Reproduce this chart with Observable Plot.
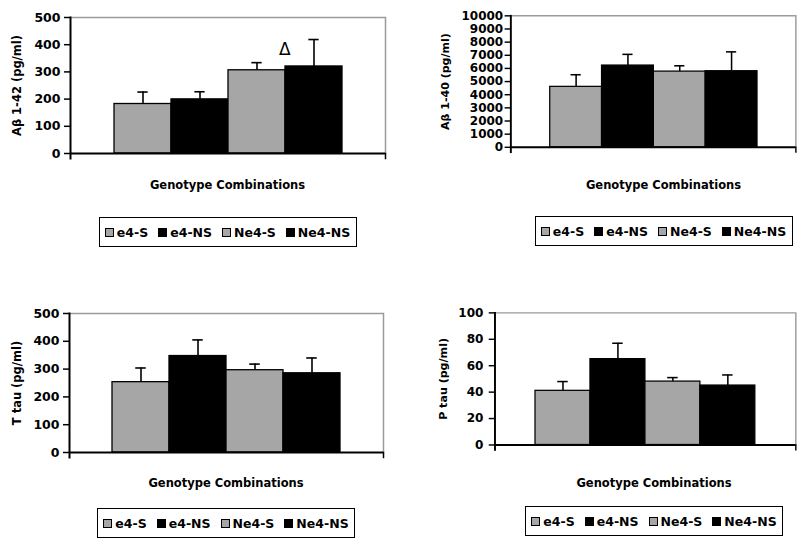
<!DOCTYPE html>
<html>
<head>
<meta charset="utf-8">
<script src="https://cdn.jsdelivr.net/npm/d3@7"></script>
<script src="https://cdn.jsdelivr.net/npm/@observablehq/plot@0.6"></script>
<style>
  html, body { margin: 0; padding: 0; background: #fff; }
  body { width: 805px; height: 540px; overflow: hidden; position: relative; font-family: "DejaVu Sans", sans-serif; }
  .panel { position: absolute; }
  .title { position: absolute; width: 300px; text-align: center; font-weight: bold; font-size: 11.5px; line-height: 14px; color: #000; }
  .legend { position: absolute; box-sizing: border-box; width: 258px; height: 30px; border: 1.5px solid #000;
            display: flex; align-items: center; justify-content: center; gap: 10px; font-weight: bold; font-size: 12.5px; color: #000; }
  .item { display: flex; align-items: center; }
  .sw { width: 7px; height: 7px; border: 1px solid #000; margin-right: 3px; }
</style>
</head>
<body>
<script>
// ---- data ----
const series = ["e4-S", "e4-NS", "Ne4-S", "Ne4-NS"];
const seriesColors = ["#a6a6a6", "#000000", "#a6a6a6", "#000000"];
const xTitle = "Genotype Combinations";

const ab42Mean = [182, 199, 306, 320];
const ab42Err  = [44, 28, 28, 99];
const ab42Ticks = [0, 100, 200, 300, 400, 500];

const ab40Mean = [4600, 6220, 5760, 5790];
const ab40Err  = [920, 850, 440, 1470];
const ab40Ticks = [0, 1000, 2000, 3000, 4000, 5000, 6000, 7000, 8000, 9000, 10000];

const ttauMean = [253, 347, 296, 285];
const ttauErr  = [51, 58, 22, 55];
const ttauTicks = [0, 100, 200, 300, 400, 500];

const ptauMean = [41, 65, 48, 45];
const ptauErr  = [7, 12, 3, 8];
const ptauTicks = [0, 20, 40, 60, 80, 100];

const ab42Notes = [{series: "Ne4-S", value: 383, text: "Δ"}];

// ---- drawing ----
const FONT = "DejaVu Sans";
function panel(cfg) {
  const rows = series.map((s, i) => ({series: s, value: cfg.mean[i], upper: cfg.mean[i] + cfg.err[i]}));
  const plotW = cfg.width - cfg.marginLeft - cfg.marginRight;
  const plotH = cfg.height - cfg.marginTop - cfg.marginBottom;
  const pOuter = 0.73;
  const band = plotW / (series.length + 2 * pOuter);
  const capInset = (band - 11) / 2;
  const yMax = cfg.ticks[cfg.ticks.length - 1];
  const marks = [
    Plot.ruleY([yMax], {stroke: "#9a9a9a", strokeWidth: 1.5}),
    Plot.frame({anchor: "right", stroke: "#9a9a9a", strokeWidth: 1.5}),
    Plot.barY(rows, {x: "series", y: "value", fill: "series", stroke: "#000", strokeWidth: 1.3}),
    Plot.ruleX(rows, {x: "series", y1: "value", y2: "upper", stroke: "#000", strokeWidth: 1.6}),
    Plot.tickY(rows, {x: "series", y: "upper", stroke: "#000", strokeWidth: 1.6, insetLeft: capInset, insetRight: capInset}),
    Plot.axisY({ticks: cfg.ticks, tickSize: 6, tickPadding: cfg.tickPadding, tickFormat: "d", label: null, strokeWidth: 1.5,
                fontSize: 12.5, fontWeight: "bold", fontFamily: FONT, fill: "#000"}),
    Plot.frame({anchor: "left", stroke: "#000", strokeWidth: 2, insetBottom: -5}),
    Plot.frame({anchor: "right", stroke: "#000", strokeWidth: 1.5, insetTop: plotH, insetBottom: -5}),
    Plot.ruleY([0], {stroke: "#000", strokeWidth: 2}),
    Plot.text([cfg.label], {frameAnchor: "left", rotate: -90, dx: -cfg.labelOffset, textAnchor: "middle",
                fontSize: 11.5, fontWeight: "bold", fontFamily: FONT, fill: "#000"})
  ];
  if (cfg.notes) {
    marks.push(Plot.text(cfg.notes, {x: "series", y: "value", text: "text", dx: band / 2 - 1,
                fontSize: 17, fontWeight: "normal", fontFamily: FONT, fill: "#000"}));
  }
  const svg = Plot.plot({
    width: cfg.width, height: cfg.height,
    marginLeft: cfg.marginLeft, marginRight: cfg.marginRight, marginTop: cfg.marginTop, marginBottom: cfg.marginBottom,
    style: {fontFamily: FONT, fontWeight: "bold", fontSize: "12px", color: "#000", background: "transparent", overflow: "visible"},
    x: {domain: series, paddingInner: 0, paddingOuter: pOuter, axis: null},
    y: {domain: [cfg.ticks[0], yMax], axis: null},
    color: {domain: series, range: seriesColors},
    marks
  });
  const wrap = document.createElement("div");
  wrap.className = "panel";
  wrap.style.left = cfg.left + "px";
  wrap.style.top = cfg.top + "px";
  wrap.appendChild(svg);
  document.body.appendChild(wrap);

  const cx = cfg.left + cfg.marginLeft + plotW / 2;
  const t = document.createElement("div");
  t.className = "title";
  t.textContent = xTitle;
  t.style.left = (cx - 150) + "px";
  t.style.top = (cfg.titleY - 7) + "px";
  document.body.appendChild(t);

  const lg = document.createElement("div");
  lg.className = "legend";
  lg.style.left = (cx - 129) + "px";
  lg.style.top = cfg.legendY + "px";
  series.forEach((s, i) => {
    const it = document.createElement("div");
    it.className = "item";
    const sw = document.createElement("span");
    sw.className = "sw";
    sw.style.background = seriesColors[i];
    const tx = document.createElement("span");
    tx.textContent = s;
    it.appendChild(sw); it.appendChild(tx);
    lg.appendChild(it);
  });
  document.body.appendChild(lg);
}

panel({left: 0, top: 0, width: 400, height: 160, marginLeft: 70, marginRight: 15, marginTop: 17, marginBottom: 7,
  mean: ab42Mean, err: ab42Err, ticks: ab42Ticks, label: "Aβ 1-42 (pg/ml)", labelOffset: 53, notes: ab42Notes,
  tickPadding: 4, titleY: 185, legendY: 217});
panel({left: 400, top: 0, width: 422, height: 160, marginLeft: 115, marginRight: 10, marginTop: 16, marginBottom: 7,
  mean: ab40Mean, err: ab40Err, ticks: ab40Ticks, label: "Aβ 1-40 (pg/ml)", labelOffset: 68,
  tickPadding: 2, titleY: 185, legendY: 216});
panel({left: 0, top: 296, width: 398, height: 163, marginLeft: 69, marginRight: 15, marginTop: 17, marginBottom: 7,
  mean: ttauMean, err: ttauErr, ticks: ttauTicks, label: "T tau (pg/ml)", labelOffset: 52,
  tickPadding: 4, titleY: 483, legendY: 508});
panel({left: 400, top: 296, width: 420, height: 162, marginLeft: 98, marginRight: 10, marginTop: 17, marginBottom: 8,
  mean: ptauMean, err: ptauErr, ticks: ptauTicks, label: "P tau (pg/ml)", labelOffset: 53,
  tickPadding: 6, titleY: 483, legendY: 506});
</script>
</body>
</html>
